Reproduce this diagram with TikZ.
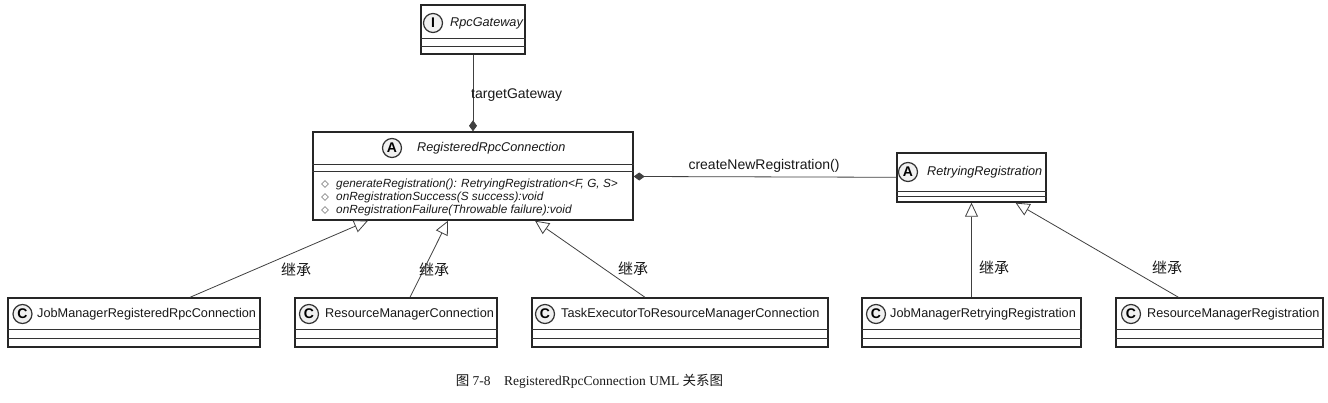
\documentclass[tikz,border=0pt]{standalone}
\usepackage{fontspec}
\setmainfont{Liberation Serif}
\setsansfont{Liberation Sans}
\newfontfamily\cjk{Noto Sans CJK SC}
\usetikzlibrary{arrows.meta,positioning,shapes.geometric,shadows}

\begin{document}
\begin{tikzpicture}[x=1pt, y=-1pt,
    classbox/.style={draw=black!85, line width=1.4pt, fill=white, inner sep=0pt,
        drop shadow={shadow xshift=1.2pt, shadow yshift=-1.2pt, fill=black!35, opacity=1}},
    compartment/.style={draw=black!80, line width=0.9pt},
    classname/.style={anchor=west, inner sep=0pt, text=black!90, font=\sffamily\fontsize{12.7}{15}\selectfont},
    abstractname/.style={classname, font=\sffamily\itshape\fontsize{12.7}{15}\selectfont},
    classicon/.style={circle, draw=black!80, line width=1.2pt, fill=black!6, minimum size=19pt,
        inner sep=0pt, font=\sffamily\bfseries\fontsize{14}{14}\selectfont},
    method/.style={anchor=west, inner sep=0pt, text=black!90, font=\sffamily\itshape\fontsize{11.8}{14}\selectfont},
    methodicon/.style={diamond, draw=black!45, line width=0.6pt, minimum size=7pt, inner sep=0pt},
    compose/.style={draw=black!75, line width=0.8pt, -{Diamond[length=11pt, width=8pt]}},
    inherit/.style={draw=black!75, line width=0.8pt, -{Triangle[open, length=14pt, width=13pt, fill=white]}},
    edgelabel/.style={inner sep=0pt, text=black!90, font=\sffamily\fontsize{14}{16}\selectfont},
    inheritlabel/.style={inner sep=0pt, text=black!90, font=\cjk\fontsize{15}{15}\selectfont}]

    \useasboundingbox[fill=white] (0,0) rectangle (1328,402);

    % interface at the top
    \node[classbox, minimum width=104pt, minimum height=49pt] (gateway) at (473,29.5) {};
    \draw[compartment] ([yshift=-34pt]gateway.north west) -- ([yshift=-34pt]gateway.north east);
    \draw[compartment] ([yshift=-42pt]gateway.north west) -- ([yshift=-42pt]gateway.north east);
    \node[classicon] (gatewayicon) at (433,23) {I};
    \node[abstractname] (gatewayname) at (450,23) {RpcGateway};

    % abstract connection
    \node[classbox, minimum width=320pt, minimum height=88pt] (reg) at (473,176) {};
    \draw[compartment] ([yshift=-33pt]reg.north west) -- ([yshift=-33pt]reg.north east);
    \draw[compartment] ([yshift=-40pt]reg.north west) -- ([yshift=-40pt]reg.north east);
    \node[classicon] (regicon) at (392,148) {A};
    \node[abstractname] (regname) at (417,148) {RegisteredRpcConnection};
    \node[methodicon] (m1icon) at (325,184) {};
    \node[method] (m1) at (336,184) {generateRegistration(): RetryingRegistration<F, G, S>};
    \node[methodicon] (m2icon) at (325,197) {};
    \node[method] (m2) at (336,197) {onRegistrationSuccess(S success):void};
    \node[methodicon] (m3icon) at (325,210) {};
    \node[method] (m3) at (336,210) {onRegistrationFailure(Throwable failure):void};

    % abstract registration
    \node[classbox, minimum width=149pt, minimum height=49pt] (retry) at (971.5,177.5) {};
    \draw[compartment] ([yshift=-39pt]retry.north west) -- ([yshift=-39pt]retry.north east);
    \draw[compartment] ([yshift=-44pt]retry.north west) -- ([yshift=-44pt]retry.north east);
    \node[classicon] (retryicon) at (908,172) {A};
    \node[abstractname] (retryname) at (927,172) {RetryingRegistration};

    % concrete classes
    \node[classbox, minimum width=252pt, minimum height=49pt] (jmconn) at (134,322.5) {};
    \node[classbox, minimum width=202pt, minimum height=49pt] (rmconn) at (396,322.5) {};
    \node[classbox, minimum width=296pt, minimum height=49pt] (teconn) at (680,322.5) {};
    \node[classbox, minimum width=219pt, minimum height=49pt] (jmretry) at (971.5,322.5) {};
    \node[classbox, minimum width=207pt, minimum height=49pt] (rmreg) at (1219.5,322.5) {};

    \draw[compartment] ([yshift=-32pt]jmconn.north west) -- ([yshift=-32pt]jmconn.north east);
    \draw[compartment] ([yshift=-41pt]jmconn.north west) -- ([yshift=-41pt]jmconn.north east);
    \draw[compartment] ([yshift=-32pt]rmconn.north west) -- ([yshift=-32pt]rmconn.north east);
    \draw[compartment] ([yshift=-41pt]rmconn.north west) -- ([yshift=-41pt]rmconn.north east);
    \draw[compartment] ([yshift=-32pt]teconn.north west) -- ([yshift=-32pt]teconn.north east);
    \draw[compartment] ([yshift=-41pt]teconn.north west) -- ([yshift=-41pt]teconn.north east);
    \draw[compartment] ([yshift=-32pt]jmretry.north west) -- ([yshift=-32pt]jmretry.north east);
    \draw[compartment] ([yshift=-41pt]jmretry.north west) -- ([yshift=-41pt]jmretry.north east);
    \draw[compartment] ([yshift=-32pt]rmreg.north west) -- ([yshift=-32pt]rmreg.north east);
    \draw[compartment] ([yshift=-41pt]rmreg.north west) -- ([yshift=-41pt]rmreg.north east);

    \node[classicon] (jmconnicon) at (22.5,314) {C};
    \node[classname] (jmconnname) at (37,314) {JobManagerRegisteredRpcConnection};
    \node[classicon] (rmconnicon) at (309,314) {C};
    \node[classname] (rmconnname) at (325,314) {ResourceManagerConnection};
    \node[classicon] (teconnicon) at (545,314) {C};
    \node[classname] (teconnname) at (561,314) {TaskExecutorToResourceManagerConnection};
    \node[classicon] (jmretryicon) at (876,314) {C};
    \node[classname] (jmretryname) at (890,314) {JobManagerRetryingRegistration};
    \node[classicon] (rmregicon) at (1131,314) {C};
    \node[classname] (rmregname) at (1147,314) {ResourceManagerRegistration};

    % composition
    \draw[compose] (gateway) -- (reg);
    \node[edgelabel, anchor=west] (gwlabel) at (471,95) {targetGateway};
    \draw[compose] (retry) -- (reg);
    \node[edgelabel] (crlabel) at (764,166) {createNewRegistration()};

    % inheritance
    \draw[inherit] ([xshift=56pt]jmconn.north) -- ([xshift=-105pt]reg.south);
    \draw[inherit] ([xshift=14pt]rmconn.north) -- ([xshift=-25pt]reg.south);
    \draw[inherit] ([xshift=-35pt]teconn.north) -- ([xshift=62pt]reg.south);
    \draw[inherit] (jmretry.north) -- (retry.south);
    \draw[inherit] ([xshift=-41pt]rmreg.north) -- ([xshift=44pt]retry.south);

    \node[inheritlabel] (lbl1) at (296,270) {继承};
    \node[inheritlabel] (lbl2) at (434,270) {继承};
    \node[inheritlabel] (lbl3) at (633,269) {继承};
    \node[inheritlabel] (lbl4) at (994,268) {继承};
    \node[inheritlabel] (lbl5) at (1167,268) {继承};

    \node[text=black!90, font=\fontsize{13.5}{13.5}\selectfont] (caption) at (589.5,381)
        {{\cjk 图} 7-8\quad RegisteredRpcConnection UML {\cjk 关系图}};
\end{tikzpicture}
\end{document}
